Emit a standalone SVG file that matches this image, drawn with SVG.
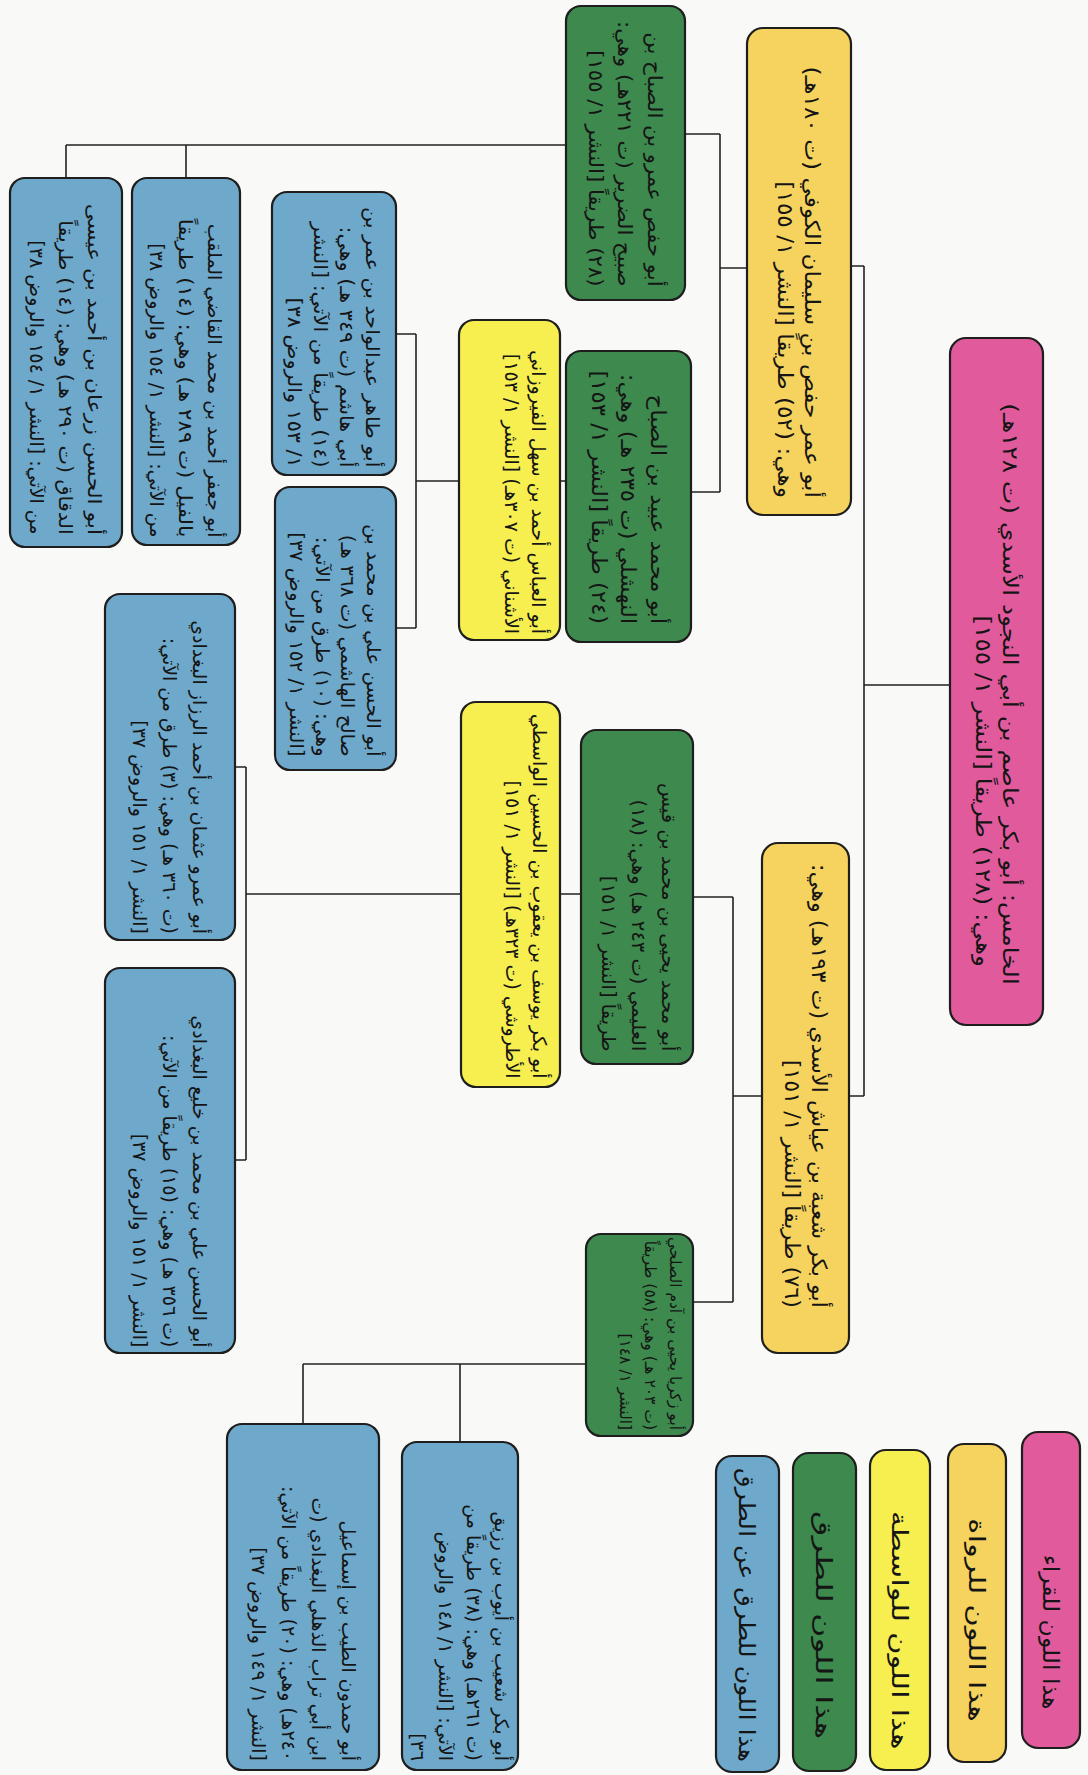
<svg xmlns="http://www.w3.org/2000/svg" width="1088" height="1775" viewBox="0 0 1088 1775">
<style>
.bx{stroke:#1e1e1e;stroke-width:2.2}
.pk{fill:#e05a9c}.or{fill:#f5d35e}.ye{fill:#f6ef4f}.gr{fill:#3d894e}.bl{fill:#6ea8cb}
text{font-family:"DejaVu Sans",sans-serif;font-size:19px;fill:#151515;direction:rtl;text-anchor:start}
text.a{font-size:21px}
text.b{font-size:20.5px}
text.d{font-size:20px}
text.c{font-size:15.5px}
text.lg{font-size:22px;text-anchor:middle}
.cn{stroke:#222;stroke-width:1.6;fill:none}
</style>
<rect width="1088" height="1775" fill="#f9f9f7"/>
<g id="connectors" class="cn">
<path d="M950 685H864M864 266V1096M851 266H864M849 1096H864"/>
<path d="M747 268H720M720 134V492M685 134H720M691 492H720"/>
<path d="M762 1096H733M733 897V1302M693 897H733M693 1302H733"/>
<path d="M566 145H66M66 145V178M186 145V178"/>
<path d="M566 481H560M459 481H416M416 334V628M396 334H416M396 628H416"/>
<path d="M581 894H560M461 894H246M246 767V1160M235 767H246M235 1160H246"/>
<path d="M586 1364H303M303 1364V1424M460 1364V1442"/>
</g>
<g id="asim">
<rect class="bx pk" x="950" y="338" width="93" height="687" rx="16"/>
<g transform="translate(996.5 681.5) rotate(90) scale(1.18 1)">
<text class="a" x="257" y="-6.5">الخامس: أبو بكر عاصم بن أبي النجود الأسدي (ت ١٢٨هـ)</text>
<text class="a" x="242" y="20.5">وهي: (١٢٨) طريقاً [النشر ١/ ١٥٥]</text>
</g>
</g>
<g id="hafs">
<rect class="bx or" x="747" y="28" width="104" height="487" rx="16"/>
<g transform="translate(799 271.5) rotate(90) scale(1.105 1)">
<text class="a" x="205" y="-6.5">أبو عمر حفص بن سليمان الكوفي (ت ١٨٠هـ)</text>
<text class="a" x="205" y="21">وهي: (٥٢) طريقاً [النشر ١/ ١٥٥]</text>
</g>
</g>
<g id="shuba">
<rect class="bx or" x="762" y="843" width="87" height="510" rx="16"/>
<g transform="translate(805.5 1098) rotate(90) scale(1.06 1)">
<text class="a" x="198" y="-6.5">أبو بكر شعبة بن عياش الأسدي (ت ١٩٣هـ) وهي:</text>
<text class="a" x="198" y="21">(٧٦) طريقاً [النشر ١/ ١٥١]</text>
</g>
</g>
<g id="amr">
<rect class="bx gr" x="566" y="6" width="119" height="294" rx="15"/>
<g transform="translate(625.5 153) rotate(90) scale(1.06 1)">
<text class="d" x="126" y="-23">أبو حفص عمرو بن الصباح بن</text>
<text class="d" x="126" y="7">صبيح الضرير (ت ٢٢١هـ) وهي:</text>
<text class="d" x="126" y="37">(٢٨) طريقاً [النشر ١/ ١٥٥]</text>
</g>
</g>
<g id="ubayd">
<rect class="bx gr" x="566" y="351" width="125" height="291" rx="15"/>
<g transform="translate(628.5 496.5) rotate(90) scale(1.11 1)">
<text class="b" x="115" y="-23">أبو محمد عبيد بن الصباح</text>
<text class="b" x="115" y="7">النهشلي (ت ٢٣٥ هـ) وهي:</text>
<text class="b" x="115" y="37">(٢٤) طريقاً [النشر ١/ ١٥٣]</text>
</g>
</g>
<g id="ulaymi">
<rect class="bx gr" x="581" y="730" width="112" height="334" rx="15"/>
<g transform="translate(637 897) rotate(90) scale(1.03 1)">
<text x="150" y="-25">أبو محمد يحيى بن محمد بن قيس</text>
<text x="150" y="5">العليمي (ت ٢٤٣ هـ) وهي: (١٨)</text>
<text x="150" y="35">طريقاً [النشر ١/ ١٥١]</text>
</g>
</g>
<g id="yahya">
<rect class="bx gr" x="586" y="1234" width="107" height="202" rx="15"/>
<g transform="translate(639.5 1335) rotate(90)">
<text class="c" x="95" y="-30">أبو زكريا يحيى بن آدم الصلحي</text>
<text class="c" x="95" y="-5">(ت ٢٠٣ هـ) وهي: (٥٨) طريقاً</text>
<text class="c" x="95" y="20">[النشر ١/ ١٤٨]</text>
</g>
</g>
<g id="ushnani">
<rect class="bx ye" x="459" y="320" width="101" height="320" rx="15"/>
<g transform="translate(509.5 480) rotate(90)">
<text x="154" y="-22.5">أبو العباس أحمد بن سهل الفيروزاني</text>
<text x="154" y="5">الأشناني (ت ٣٠٧هـ) [النشر ١/ ١٥٣]</text>
</g>
</g>
<g id="utrushi">
<rect class="bx ye" x="461" y="702" width="99" height="385" rx="15"/>
<g transform="translate(510.5 894.5) rotate(90)">
<text x="184" y="-22">أبو بكر يوسف بن يعقوب بن الحسين الواسطي</text>
<text x="184" y="5">الأطروشي (ت ٣٢٣هـ) [النشر ١/ ١٥١]</text>
</g>
</g>
<g id="tahir">
<rect class="bx bl" x="272" y="192" width="124" height="283" rx="15"/>
<g transform="translate(334 333.5) rotate(90) scale(1.09 1)">
<text x="123" y="-32">أبو طاهر عبدالواحد بن عمر بن</text>
<text x="123" y="-6">أبي هاشم (ت ٣٤٩ هـ) وهي:</text>
<text x="123" y="20">(١٤) طريقاً من الآتي: [النشر</text>
<text x="123" y="46">١/ ١٥٣ والروض ٣٨]</text>
</g>
</g>
<g id="hashimi">
<rect class="bx bl" x="275" y="487" width="121" height="283" rx="15"/>
<g transform="translate(335.5 628.5) rotate(90) scale(1.05 1)">
<text x="122" y="-32">أبو الحسن علي بن محمد بن</text>
<text x="122" y="-6">صالح الهاشمي (ت ٣٦٨ هـ)</text>
<text x="122" y="20">وهي: (١٠) طرق من الآتي:</text>
<text x="122" y="46">[النشر ١/ ١٥٢ والروض ٣٧]</text>
</g>
</g>
<g id="fil">
<rect class="bx bl" x="132" y="178" width="108" height="367" rx="15"/>
<g transform="translate(186 361.5) rotate(90)">
<text x="176" y="-22">أبو جعفر أحمد بن محمد القاضي الملقب</text>
<text x="157" y="7" transform="scale(1.12 1)">بالفيل (ت ٢٨٩ هـ) وهي: (١٤) طريقاً</text>
<text x="176" y="36">من الآتي: [النشر ١/ ١٥٤ والروض ٣٨]</text>
</g>
</g>
<g id="zaraan">
<rect class="bx bl" x="10" y="178" width="112" height="369" rx="15"/>
<g transform="translate(66 362.5) rotate(90)">
<text x="150" y="-22" transform="scale(1.15 1)">أبو الحسن زرعان بن أحمد بن عيسى</text>
<text x="158" y="7" transform="scale(1.09 1)">الدقاق (ت ٢٩٠ هـ) وهي: (١٤) طريقاً</text>
<text x="172" y="36">من الآتي: [النشر ١/ ١٥٤ والروض ٣٨]</text>
</g>
</g>
<g id="razzaz">
<rect class="bx bl" x="105" y="594" width="130" height="346" rx="15"/>
<g transform="translate(170 767) rotate(90)">
<text x="167" y="-23">أبو عمرو عثمان بن أحمد الرزاز البغدادي</text>
<text x="167" y="7">(ت ٣٦٠ هـ) وهي: (٣) طرق من الآتي:</text>
<text x="167" y="37">[النشر ١/ ١٥١ والروض ٣٧]</text>
</g>
</g>
<g id="khali">
<rect class="bx bl" x="105" y="968" width="130" height="385" rx="15"/>
<g transform="translate(170 1160.5) rotate(90)">
<text x="187" y="-23">أبو الحسن علي بن محمد بن خليع البغدادي</text>
<text x="187" y="7">(ت ٣٥٦ هـ) وهي: (١٥) طريقاً من الآتي:</text>
<text x="187" y="37">[النشر ١/ ١٥١ والروض ٣٧]</text>
</g>
</g>
<g id="shuayb">
<rect class="bx bl" x="402" y="1442" width="116" height="328" rx="15"/>
<g transform="translate(460 1606) rotate(90)">
<text x="155" y="-35">أبو بكر شعيب بن أيوب بن رزيق</text>
<text x="155" y="-7">(ت ٢٦١هـ) وهي: (٣٨) طريقاً من</text>
<text x="155" y="21">الآتي: [النشر ١/ ١٤٨ والروض</text>
<text x="155" y="49">٣٦]</text>
</g>
</g>
<g id="hamdun">
<rect class="bx bl" x="227" y="1424" width="152" height="346" rx="15"/>
<g transform="translate(303 1597) rotate(90)">
<text x="164" y="-39">أبو حمدون الطيب بن إسماعيل</text>
<text x="164" y="-9">ابن أبي تراب الذهلي البغدادي (ت</text>
<text x="164" y="21">٢٤٠هـ) وهي: (٢٠) طريقاً من الآتي:</text>
<text x="164" y="51">[النشر ١/ ١٤٩ والروض ٣٧]</text>
</g>
</g>
<g id="legend-qurra">
<rect class="bx pk" x="1022" y="1432" width="58" height="316" rx="16"/>
<text class="lg" transform="translate(1051 1632) rotate(90) scale(1.07 1)" y="8">هذا اللون للقراء</text>
</g>
<g id="legend-ruwat">
<rect class="bx or" x="948" y="1444" width="58" height="318" rx="16"/>
<text class="lg" transform="translate(977 1620) rotate(90) scale(1.4 1)" y="8">هذا اللون للرواة</text>
</g>
<g id="legend-wasita">
<rect class="bx ye" x="870" y="1450" width="60" height="320" rx="16"/>
<text class="lg" transform="translate(900 1630) rotate(90) scale(1.4 1)" y="8">هذا اللون للواسطة</text>
</g>
<g id="legend-turuq">
<rect class="bx gr" x="793" y="1453" width="63" height="318" rx="16"/>
<text class="lg" transform="translate(824.5 1625) rotate(90) scale(1.5 1)" y="8">هذا اللون للطرق</text>
</g>
<g id="legend-turuq-an-turuq">
<rect class="bx bl" x="716" y="1456" width="63" height="316" rx="16"/>
<text class="lg" transform="translate(747.5 1615) rotate(90) scale(1.15 1)" y="8">هذا اللون للطرق عن الطرق</text>
</g>
</svg>
